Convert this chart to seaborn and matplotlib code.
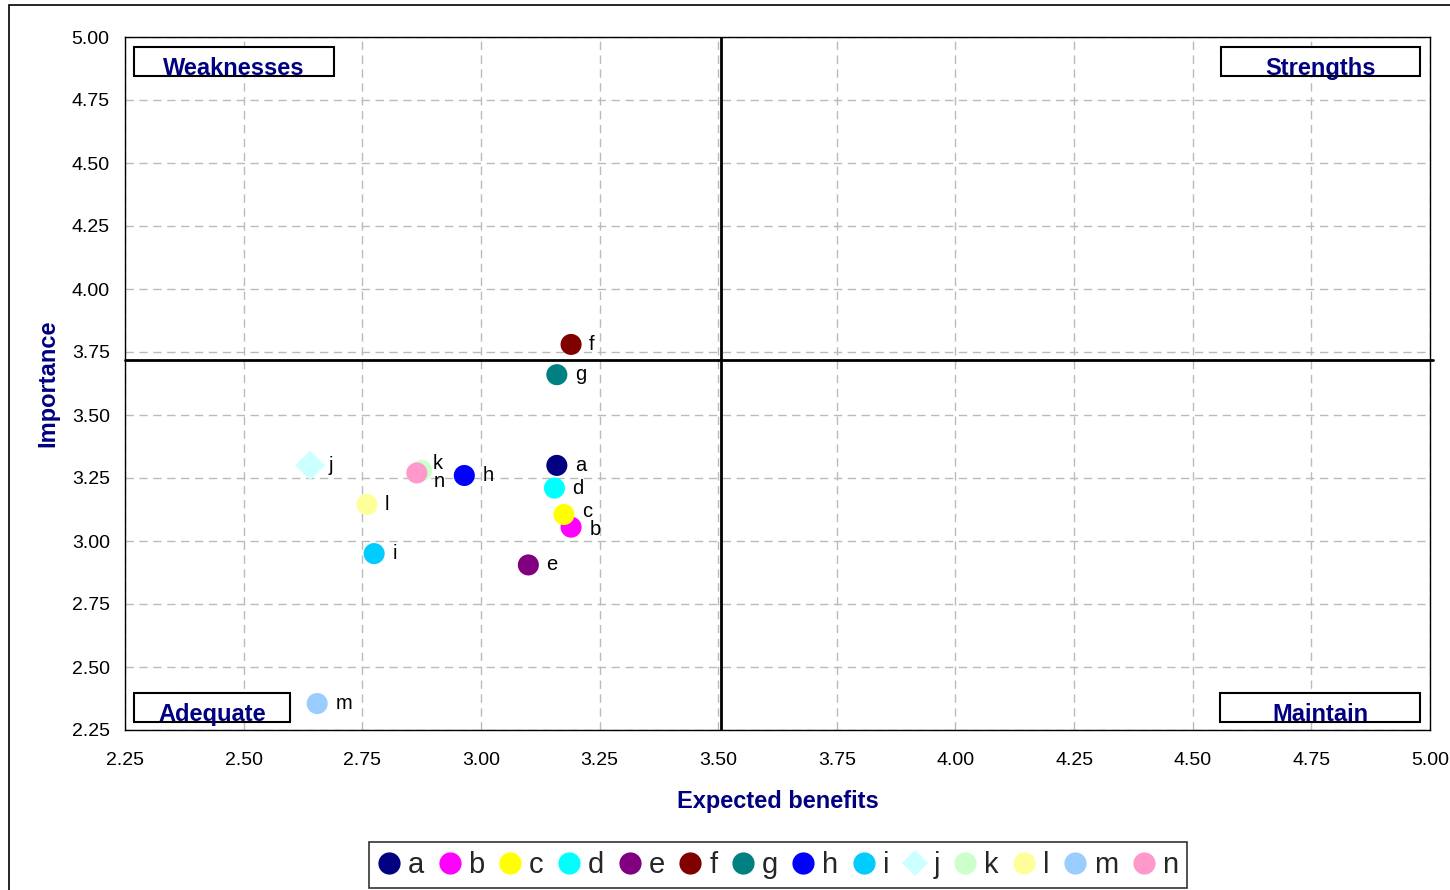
import matplotlib
matplotlib.use("Agg")
import matplotlib.pyplot as plt
from matplotlib.lines import Line2D
from matplotlib.patches import Rectangle
import seaborn as sns
import pandas as pd

# ---- data ----
labels = ["a", "b", "c", "d", "e", "f", "g", "h", "i", "j", "k", "l", "m", "n"]
expected_benefits = [3.16, 3.19, 3.175, 3.155, 3.10, 3.19, 3.16, 2.965, 2.775, 2.64, 2.875, 2.76, 2.655, 2.865]
importance = [3.30, 3.055, 3.105, 3.21, 2.905, 3.78, 3.66, 3.26, 2.95, 3.30, 3.28, 3.145, 2.355, 3.27]
colors = ["#000080", "#FF00FF", "#FFFF00", "#00FFFF", "#800080", "#800000", "#008080",
          "#0000FF", "#00CCFF", "#CCFFFF", "#CCFFCC", "#FFFF99", "#99CCFF", "#FF99CC"]
marker_kind = ["o"] * 9 + ["D"] + ["o"] * 4
mean_x = 3.505
mean_y = 3.72
x_ticks = [2.25, 2.50, 2.75, 3.00, 3.25, 3.50, 3.75, 4.00, 4.25, 4.50, 4.75, 5.00]
y_ticks = [2.25, 2.50, 2.75, 3.00, 3.25, 3.50, 3.75, 4.00, 4.25, 4.50, 4.75, 5.00]
quadrants = ["Weaknesses", "Strengths", "Adequate", "Maintain"]

df = pd.DataFrame({"label": labels, "x": expected_benefits, "y": importance, "m": marker_kind})

sns.set_theme(style="white")
plt.rcParams["font.family"] = ["Liberation Sans", "DejaVu Sans"]

NAVY = "#000080"
fig = plt.figure(figsize=(14.5, 8.9), dpi=100)
ax = fig.add_axes([125 / 1450, 1 - 730 / 890, 1305 / 1450, 693 / 890])

sns.scatterplot(data=df, x="x", y="y", hue="label", palette=colors, style="m",
                markers={"o": "o", "D": "D"}, s=230, linewidth=0, legend=False, ax=ax, zorder=5)

ax.set_xlim(2.25, 5.00)
ax.set_ylim(2.25, 5.00)
ax.set_xticks(x_ticks)
ax.set_yticks(y_ticks)
ax.set_xticklabels([f"{v:.2f}" for v in x_ticks])
ax.set_yticklabels([f"{v:.2f}" for v in y_ticks])
ax.tick_params(axis="both", length=0, labelsize=14, colors="black")
ax.tick_params(axis="x", pad=16)
ax.tick_params(axis="y", pad=11)
ax.grid(True, color="#BBBBBB", linestyle=(0, (6, 4)), linewidth=1)
for sp in ax.spines.values():
    sp.set_color("black")
    sp.set_linewidth(1.0)

ax.set_xlabel("Expected benefits", fontsize=17, fontweight="bold", color=NAVY, labelpad=15)
ax.set_ylabel("Importance", fontsize=17, fontweight="bold", color=NAVY, labelpad=9)

# mean lines
ax.axvline(mean_x, color="black", linewidth=2, zorder=4)
ax.axhline(mean_y, color="black", linewidth=2, zorder=4, clip_on=False, xmax=1.002)

# point labels (offsets in pixels)
offsets = {"k": (11, -7), "n": (17, 9), "c": (18, -3), "b": (19, 2)}
for lab, xv, yv in zip(labels, expected_benefits, importance):
    dx, dy = offsets.get(lab, (18, 0))
    ax.annotate(lab, (xv, yv), xytext=(dx * 0.72, -dy * 0.72), textcoords="offset points",
                ha="left", va="center", fontsize=14.5, color="black", zorder=6)

# quadrant boxes (axes fraction)
boxes = [(0.0069, 0.9437, 0.1533, 0.0419),
         (0.8398, 0.9437, 0.1525, 0.0419),
         (0.0069, 0.0115, 0.1195, 0.0419),
         (0.8391, 0.0115, 0.1532, 0.0419)]
for name, (bx, by, bw, bh) in zip(quadrants, boxes):
    rect = Rectangle((bx, by), bw, bh, transform=ax.transAxes, facecolor="white",
                     edgecolor="black", linewidth=1.5, zorder=7)
    ax.add_patch(rect)
    t = ax.text(bx + bw / 2, by + 0.0015, name, transform=ax.transAxes, ha="center",
                va="baseline", fontsize=17, fontweight="bold", color=NAVY, zorder=8)
    clip = Rectangle((bx, by), bw, bh, transform=ax.transAxes)
    t.set_clip_path(clip)

# legend
handles = []
for lab, c, mk in zip(labels, colors, marker_kind):
    handles.append(Line2D([], [], ls="", marker=mk, color=c,
                          markersize=16 if mk == "o" else 13, markeredgewidth=0, label=lab))
leg = fig.legend(handles=handles, loc="center", bbox_to_anchor=(778 / 1450, 1 - 865 / 890),
                 ncol=14, fontsize=21, frameon=True, fancybox=False, edgecolor="black",
                 handlelength=0.8, handletextpad=0.25, columnspacing=0.47, borderpad=0.3)
leg.get_frame().set_linewidth(1.2)

# outer frame
fig.patches.append(Rectangle((9 / 1450, -0.5), 2.0, 0.5 + 1 - 5 / 890, transform=fig.transFigure,
                             fill=False, edgecolor="black", linewidth=1.2))

fig.savefig("out.png", dpi=100)
